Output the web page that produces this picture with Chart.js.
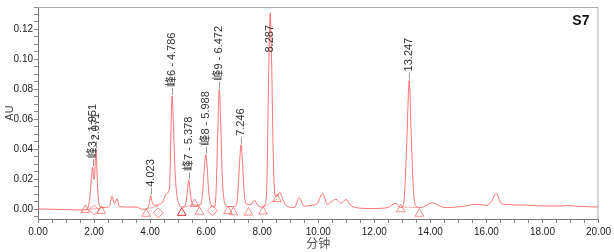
<!DOCTYPE html>
<html>
<head>
<meta charset="utf-8">
<script src="https://cdn.jsdelivr.net/npm/chart.js@4/dist/chart.umd.min.js"></script>
<style>
  html, body { margin: 0; padding: 0; background: #fff; }
  #wrap { width: 614px; height: 252px; position: relative; }
</style>
</head>
<body>
<div id="wrap"><canvas id="chromatogram"></canvas></div>
<script>
// trace (minutes, AU)
const traceMinutes = [0, 1.0, 1.6, 1.75, 1.85, 1.91, 1.951, 1.99, 2.02, 2.071, 2.11, 2.16, 2.24, 2.4, 2.55, 2.64, 2.73, 2.82, 2.9, 3.2, 3.5, 3.73,
  3.9, 3.97, 4.023, 4.07, 4.17, 4.3, 4.45, 4.57, 4.69, 4.72, 4.75, 4.786, 4.83, 4.88, 4.94, 5.02, 5.11,
  5.25, 5.30, 5.34, 5.378, 5.42, 5.46, 5.53, 5.65, 5.80, 5.87, 5.93, 5.988, 6.04, 6.09, 6.17, 6.30,
  6.36, 6.42, 6.472, 6.52, 6.57, 6.64, 6.75, 6.95, 7.07, 7.13, 7.19, 7.246, 7.30, 7.35, 7.43, 7.6, 7.72, 7.85, 8.0,
  8.10, 8.17, 8.23, 8.287, 8.34, 8.39, 8.45, 8.52, 8.63, 8.75, 8.85, 9.15, 9.32, 9.5, 9.74, 9.97, 10.15, 10.33,
  10.45, 10.63, 10.81, 10.99, 11.16, 11.34, 11.93, 12.47, 12.77, 12.94, 13.0, 13.08, 13.16, 13.247, 13.32, 13.40,
  13.5, 13.65, 14.07, 14.42, 14.54, 15.25, 15.61, 16.03, 16.2, 16.35, 16.5, 16.62, 17.39, 17.98, 18.7, 18.85, 19.2, 20.0];
const traceAU = [0.0002, -0.0002, -0.0005, 0.0, 0.008, 0.022, 0.028, 0.02, 0.022, 0.040, 0.022, 0.006, 0.0012, 0.0012, 0.002, 0.0088, 0.0038, 0.007, 0.0018, 0.0015, 0.0015, 0.0,
  0.0003, 0.004, 0.009, 0.005, 0.0026, 0.003, 0.0048, 0.0102, 0.014, 0.03, 0.057, 0.0756, 0.058, 0.03, 0.012, 0.004, 0.0015,
  0.0025, 0.007, 0.014, 0.0195, 0.014, 0.007, 0.003, 0.0026, 0.003, 0.01, 0.026, 0.0365, 0.027, 0.012, 0.003, 0.0015,
  0.014, 0.055, 0.080, 0.058, 0.024, 0.006, 0.002, 0.0018, 0.0026, 0.01, 0.03, 0.043, 0.031, 0.013, 0.0035, 0.003, 0.006, 0.0025, 0.0015,
  0.003, 0.02, 0.09, 0.131, 0.095, 0.04, 0.01, 0.0085, 0.0113, 0.006, 0.0026, 0.0011, 0.0076, 0.002, 0.0026, 0.004, 0.0106, 0.0033,
  0.0048, 0.0067, 0.004, 0.0065, 0.0026, 0.0011, 0.0005, 0.0011, 0.004, 0.0011, 0.0015, 0.01, 0.045, 0.086, 0.048, 0.012,
  0.002, 0.0011, 0.0043, 0.0015, 0.0011, 0.0022, 0.0033, 0.0026, 0.0059, 0.0106, 0.0048, 0.0033, 0.0028, 0.0022, 0.0022, 0.0025, 0.002, 0.0015];

// labelled peaks
const peakMinutes = [1.951, 2.071, 4.023, 4.786, 5.378, 5.988, 6.472, 7.246, 8.287, 13.247];
const peakAU = [0.028, 0.040, 0.009, 0.0756, 0.0195, 0.0365, 0.080, 0.043, 0.131, 0.086];
const peakLabels = ['峰3 - 1.951', '2.071', '4.023', '峰6 - 4.786', '峰7 - 5.378', '峰8 - 5.988', '峰9 - 6.472', '7.246', '8.287', '13.247'];

// integration markers
const triangleMinutes = [1.69, 2.26, 3.86, 5.13, 5.59, 5.76, 6.78, 6.97, 7.51, 8.03, 8.53, 12.94, 13.61];
const triangleAU = [-0.0005, -0.0011, -0.003, -0.0024, 0.0035, -0.0017, -0.0011, -0.002, -0.0022, -0.0015, 0.0068, 0.0, -0.003];
const diamondMinutes = [2.01, 4.29, 6.22];
const diamondAU = [-0.0005, -0.0024, -0.0009];

// baseline segments (null breaks them)
const baselineMinutes = [1.69, 2.26, null, 3.86, 4.29, null, 5.13, 5.59, null, 8.03, 8.53, null, 12.94, 13.61];
const baselineAU = [0.0, 0.0005, null, 0.0002, 0.002, null, 0.0008, 0.0035, null, 0.0012, 0.0068, null, 0.0015, 0.0011];

const xTicks = [];
for (let v = 0; v <= 20; v += 0.5) xTicks.push(v);
const yTicks = [];
for (let k = -1; k <= 27; k++) yTicks.push(k * 0.005);

const sampleName = 'S7';

const toPoints = (xs, ys) => xs.map((x, i) => ({ x: x === null ? NaN : x, y: ys[i] }));

const peakLabelPlugin = {
    id: 'peakLabels',
    afterDatasetsDraw(chart) {
        const ctx = chart.ctx;
        const xs = chart.scales.x, ys = chart.scales.y;
        const area = chart.chartArea;
        ctx.save();
        ctx.font = '11px "Liberation Sans", Arial, "Noto Sans CJK SC", sans-serif';
        peakMinutes.forEach((t, i) => {
            const px = xs.getPixelForValue(t);
            const py = ys.getPixelForValue(peakAU[i]);
            const w = ctx.measureText(peakLabels[i]).width;
            let start = py - 9;
            if (start - w < area.top + 18) start = area.top + 18 + w;
            if (start < py - 2) {
                ctx.strokeStyle = '#999';
                ctx.lineWidth = 1;
                ctx.beginPath();
                ctx.moveTo(Math.round(px) + 0.5, py - 1);
                ctx.lineTo(Math.round(px) + 0.5, start + 1);
                ctx.stroke();
            }
            ctx.save();
            ctx.translate(px, start);
            ctx.rotate(-Math.PI / 2);
            ctx.fillStyle = '#333';
            ctx.textAlign = 'left';
            ctx.textBaseline = 'middle';
            ctx.fillText(peakLabels[i], 0, 0);
            ctx.restore();
        });
        // frame top/right
        ctx.strokeStyle = '#aaa';
        ctx.lineWidth = 1;
        ctx.beginPath();
        ctx.moveTo(area.left, area.top + 0.5);
        ctx.lineTo(area.right - 0.5, area.top + 0.5);
        ctx.lineTo(area.right - 0.5, area.bottom);
        ctx.stroke();
        // sample name
        ctx.font = 'bold 14px "Liberation Sans", Arial, sans-serif';
        ctx.fillStyle = '#111';
        ctx.textAlign = 'right';
        ctx.textBaseline = 'middle';
        ctx.fillText(sampleName, area.right - 9, area.top + 14);
        ctx.restore();
    }
};

const ctxC = document.getElementById('chromatogram').getContext('2d');
new Chart(ctxC, {
    type: 'scatter',
    data: {
        datasets: [
            {
                data: toPoints(baselineMinutes, baselineAU),
                showLine: true,
                spanGaps: false,
                borderColor: 'rgba(255,110,110,0.55)',
                borderWidth: 1,
                pointRadius: 0
            },
            {
                data: toPoints(traceMinutes, traceAU),
                showLine: true,
                borderColor: 'rgba(250,70,70,0.75)',
                borderWidth: 1,
                cubicInterpolationMode: 'monotone',
                pointRadius: 0
            },
            {
                data: toPoints(triangleMinutes, triangleAU),
                pointStyle: 'triangle',
                pointRadius: 5,
                backgroundColor: 'rgba(0,0,0,0)',
                borderColor: triangleMinutes.map((t, i) => i === 3 ? 'rgba(220,30,30,0.9)' : 'rgba(250,100,100,0.75)'),
                borderWidth: 1
            },
            {
                data: toPoints(diamondMinutes, diamondAU),
                pointStyle: 'rectRot',
                pointRadius: 5,
                backgroundColor: 'rgba(0,0,0,0)',
                borderColor: 'rgba(250,100,100,0.75)',
                borderWidth: 1
            }
        ]
    },
    options: {
        responsive: true,
        maintainAspectRatio: false,
        animation: false,
        layout: { padding: { top: 2, right: 14, left: 0, bottom: 0 } },
        plugins: { legend: { display: false }, tooltip: { enabled: false } },
        scales: {
            x: {
                type: 'linear',
                min: 0,
                max: 20,
                afterBuildTicks: (scale) => { scale.ticks = xTicks.map(v => ({ value: v })); },
                afterFit: (scale) => { scale.height = 33; },
                ticks: {
                    autoSkip: false,
                    maxRotation: 0,
                    padding: 3,
                    color: '#222',
                    font: { size: 10, family: '"Liberation Sans", Arial, sans-serif' },
                    callback: (v) => (Math.abs(v % 2) < 1e-9 ? v.toFixed(2) : '')
                },
                grid: { drawOnChartArea: false, tickLength: 4, color: '#888' },
                border: { color: '#777' },
                title: {
                    display: true,
                    text: '分钟',
                    color: '#555',
                    font: { size: 12, family: '"Noto Sans CJK SC", sans-serif' },
                    padding: { top: 0, bottom: 1 }
                }
            },
            y: {
                min: -0.0065,
                max: 0.135,
                afterBuildTicks: (scale) => { scale.ticks = yTicks.map(v => ({ value: v })); },
                afterFit: (scale) => { scale.width = 38; },
                ticks: {
                    autoSkip: false,
                    padding: 1,
                    color: '#222',
                    font: { size: 10, family: '"Liberation Sans", Arial, sans-serif' },
                    callback: (v) => {
                        const r = v / 0.02;
                        return Math.abs(r - Math.round(r)) < 1e-6 ? v.toFixed(2) : '';
                    }
                },
                grid: { drawOnChartArea: false, tickLength: 4, color: '#888' },
                border: { color: '#777' },
                title: {
                    display: true,
                    text: 'AU',
                    color: '#444',
                    font: { size: 11, family: '"Liberation Sans", Arial, sans-serif' },
                    padding: { top: 3, bottom: 0 }
                }
            }
        }
    },
    plugins: [peakLabelPlugin]
});
</script>
</body>
</html>
